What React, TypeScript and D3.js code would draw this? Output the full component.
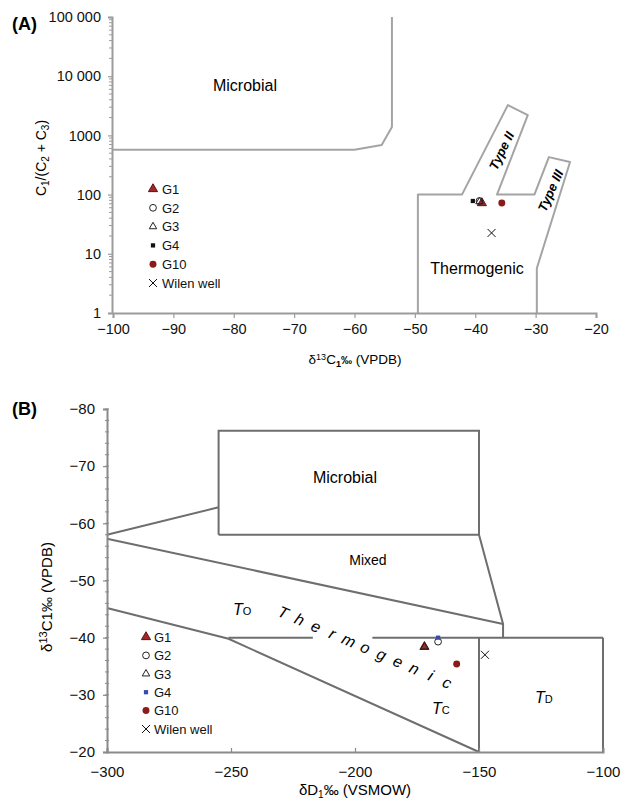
import React, { useEffect, useRef } from 'react';
import * as d3 from 'd3';

// samples, same order in both panels
const sampleNames = ['G1', 'G2', 'G3', 'G4', 'G10', 'Wilen well'];
const sampleSymbols = ['triFill', 'circleOpen', 'triOpen', 'square', 'circleFill', 'cross'];
const colorsA = ['#a3262a', '#222', '#222', '#111', '#8a1b1b', '#111'];
const colorsB = ['#a3262a', '#222', '#222', '#3b4aa8', '#8a1b1b', '#111'];

// panel A: d13C1 vs C1/(C2+C3)
const a13C = [-38.9, -39.3, -39.3, -40.4, -35.6, -37.3];
const aRatio = [72, 78, 76, 78, 72, 22.5];

// panel B: dD vs d13C1
const bDeut = [-172, -166.5, -172, -166.5, -159, -147.6];
const b13C = [-38.4, -39.3, -38.4, -40, -35.4, -37];

// axis ticks
const xTicksA = [-100, -90, -80, -70, -60, -50, -40, -30, -20];
const yTicksA = [1, 10, 100, 1000, 10000, 100000];
const yTickLabelsA = ['1', '10', '100', '1000', '10 000', '100 000'];
const xTicksB = [-300, -250, -200, -150, -100];
const yTicksB = [-80, -70, -60, -50, -40, -30, -20];

// zone boundaries (data units)
const microbialA: [number, number][] = [[-100, 570], [-60, 570], [-55.5, 690], [-53.8, 1390], [-53.8, 100000]];
const thermoA: [number, number][] = [
  [-49.5, 1], [-49.5, 100], [-42.2, 100], [-34.6, 3250], [-31.3, 2200], [-36.4, 100],
  [-30.2, 100], [-27.8, 430], [-24.3, 355], [-29.8, 5.7], [-29.8, 1],
];
const microbialBoxB: [number, number][] = [[-255, -58], [-255, -76.2], [-150, -76.2], [-150, -58], [-255, -58]];
const microbialLinkB: [number, number][] = [[-300, -58], [-255, -62.8]];
const mixedLowerB: [number, number][] = [[-300, -57.3], [-140.3, -42.4]];
const mixedRightB: [number, number][] = [[-150, -58], [-140.3, -42.4], [-140.3, -40]];
const thermoLowerB: [number, number][] = [[-300, -45.2], [-251, -39.8], [-150, -20]];
const t0LineB: [number, number][] = [[-251, -40], [-217, -40]];
const tcLineB: [number, number][] = [[-193, -40], [-100, -40]];
const tdLeftB: [number, number][] = [[-150, -40], [-150, -20]];
const tdRightB: [number, number][] = [[-100, -40], [-100, -20]];

const FONT = 'Liberation Sans, Arial, Helvetica, sans-serif';

function drawMarker(g: any, kind: string, x: number, y: number, color: string) {
  if (kind === 'cross') {
    g.append('path').attr('d', `M${x - 4},${y - 4}L${x + 4},${y + 4}M${x - 4},${y + 4}L${x + 4},${y - 4}`)
      .attr('stroke', color).attr('stroke-width', 1).attr('fill', 'none');
    return;
  }
  let type = d3.symbolCircle, size = 38, fill = color, stroke = 'none';
  if (kind === 'triFill') { type = d3.symbolTriangle; size = 36; stroke = '#5a1515'; }
  if (kind === 'triOpen') { type = d3.symbolTriangle; size = 24; fill = 'none'; stroke = color; }
  if (kind === 'circleOpen') { size = 36; fill = 'none'; stroke = color; }
  if (kind === 'square') { type = d3.symbolSquare; size = 18; }
  g.append('path').attr('d', d3.symbol().type(type).size(size)())
    .attr('transform', `translate(${x},${y})`)
    .attr('fill', fill).attr('stroke', stroke).attr('stroke-width', 1);
}

function styleAxis(ax: any, color: string) {
  ax.select('.domain').attr('stroke', color).attr('stroke-width', 2);
  ax.selectAll('.tick line').attr('stroke', color).attr('stroke-width', 1.2);
  ax.selectAll('.tick text').attr('fill', '#111').attr('font-size', 14.5).attr('font-family', FONT);
}

export default function App() {
  const ref = useRef<SVGSVGElement>(null);

  useEffect(() => {
    const svg = d3.select(ref.current);
    svg.selectAll('*').remove();

    // ---------------- panel A ----------------
    const xA = d3.scaleLinear().domain([-100, -20]).range([113, 596]);
    const yA = d3.scaleLog().domain([1, 100000]).range([313, 17]);
    const gA = svg.append('g');
    const lineA = d3.line<[number, number]>().x(d => xA(d[0])).y(d => yA(d[1]));

    gA.append('text').attr('x', 12).attr('y', 30).text('(A)')
      .attr('font-size', 18).attr('font-weight', 'bold').attr('font-family', FONT);

    [microbialA, thermoA].forEach(pts => {
      gA.append('path').attr('d', lineA(pts)).attr('fill', 'none')
        .attr('stroke', '#a4a4a4').attr('stroke-width', 2).attr('stroke-linejoin', 'round');
    });

    const axA = gA.append('g').attr('transform', 'translate(0,313)')
      .call(d3.axisBottom(xA).tickValues(xTicksA).tickSize(5).tickPadding(6));
    styleAxis(axA, '#9c9c9c');

    const ayA = gA.append('g').attr('transform', 'translate(112,0)')
      .call(d3.axisLeft(yA).tickValues(yTicksA).tickSize(4).tickPadding(7)
        .tickFormat((d: any, i: number) => yTickLabelsA[i]));
    styleAxis(ayA, '#9c9c9c');
    // log minor ticks
    yTicksA.slice(0, -1).forEach(dec => {
      d3.range(2, 10).forEach(m => {
        ayA.append('line').attr('x1', -3).attr('x2', 1).attr('y1', yA(dec * m)).attr('y2', yA(dec * m))
          .attr('stroke', '#9c9c9c').attr('stroke-width', 1);
      });
    });

    gA.append('text').attr('transform', 'translate(46,158) rotate(-90)').attr('text-anchor', 'middle')
      .attr('font-size', 14).attr('font-family', FONT)
      .html('C<tspan dy="3" font-size="10">1</tspan><tspan dy="-3">/(C</tspan><tspan dy="3" font-size="10">2</tspan><tspan dy="-3"> + C</tspan><tspan dy="3" font-size="10">3</tspan><tspan dy="-3">)</tspan>');
    gA.append('text').attr('x', 355).attr('y', 364).attr('text-anchor', 'middle')
      .attr('font-size', 13.5).attr('font-family', FONT)
      .html('δ<tspan dy="-4" font-size="9">13</tspan><tspan dy="4">C</tspan><tspan dy="3" font-size="9" font-weight="bold">1</tspan><tspan dy="-3" font-weight="bold" font-size="11">‰</tspan> (VPDB)');

    gA.append('text').attr('x', 245).attr('y', 91).attr('text-anchor', 'middle')
      .attr('font-size', 16).attr('font-family', FONT).text('Microbial');
    gA.append('text').attr('x', 477).attr('y', 274).attr('text-anchor', 'middle')
      .attr('font-size', 16).attr('font-family', FONT).text('Thermogenic');
    gA.append('text').attr('transform', 'translate(502,151) rotate(-64)').attr('text-anchor', 'middle')
      .attr('dy', 4).attr('font-size', 13).attr('font-weight', 'bold').attr('font-style', 'italic')
      .attr('font-family', FONT).text('Type II');
    gA.append('text').attr('transform', 'translate(551,191) rotate(-66)').attr('text-anchor', 'middle')
      .attr('dy', 4).attr('font-size', 13).attr('font-weight', 'bold').attr('font-style', 'italic')
      .attr('font-family', FONT).text('Type III');

    sampleNames.forEach((name, i) => {
      drawMarker(gA, sampleSymbols[i], xA(a13C[i]), yA(aRatio[i]), colorsA[i]);
      const ly = 189 + i * 18.8;
      drawMarker(gA, sampleSymbols[i], 153, ly, colorsA[i]);
      gA.append('text').attr('x', 162).attr('y', ly + 4.7).attr('font-size', 13)
        .attr('font-family', FONT).attr('fill', '#111').text(name);
    });

    // ---------------- panel B ----------------
    const xB = d3.scaleLinear().domain([-300, -100]).range([107, 603]);
    const yB = d3.scaleLinear().domain([-80, -20]).range([409, 752]);
    const gB = svg.append('g');
    const lineB = d3.line<[number, number]>().x(d => xB(d[0])).y(d => yB(d[1]));

    gB.append('text').attr('x', 12).attr('y', 415).text('(B)')
      .attr('font-size', 18).attr('font-weight', 'bold').attr('font-family', FONT);

    [microbialBoxB, microbialLinkB, mixedLowerB, mixedRightB, thermoLowerB, t0LineB, tcLineB, tdLeftB, tdRightB]
      .forEach(pts => {
        gB.append('path').attr('d', lineB(pts)).attr('fill', 'none')
          .attr('stroke', '#6e6e6e').attr('stroke-width', 2).attr('stroke-linejoin', 'miter');
      });

    const axB = gB.append('g').attr('transform', 'translate(0,752)')
      .call(d3.axisBottom(xB).tickValues(xTicksB).tickSize(-4).tickPadding(14));
    styleAxis(axB, '#8a8a8a');
    axB.selectAll('.tick text').attr('font-size', 15);

    const ayB = gB.append('g').attr('transform', 'translate(107,0)')
      .call(d3.axisLeft(yB).tickValues(yTicksB).tickSize(4).tickPadding(8));
    styleAxis(ayB, '#8a8a8a');
    ayB.selectAll('.tick text').attr('font-size', 15);
    d3.range(-80, -20, 2).forEach(v => {
      ayB.append('line').attr('x1', -2).attr('x2', 2).attr('y1', yB(v)).attr('y2', yB(v))
        .attr('stroke', '#8a8a8a').attr('stroke-width', 1);
    });

    gB.append('text').attr('transform', 'translate(52,597) rotate(-90)').attr('text-anchor', 'middle')
      .attr('font-size', 15).attr('font-family', FONT)
      .html('δ<tspan dy="-5" font-size="11">13</tspan><tspan dy="5">C1‰ (VPDB)</tspan>');
    gB.append('text').attr('x', 355).attr('y', 795).attr('text-anchor', 'middle')
      .attr('font-size', 15).attr('font-family', FONT)
      .html('δD<tspan dy="3" font-size="10">1</tspan><tspan dy="-3">‰ (VSMOW)</tspan>');

    gB.append('text').attr('x', 345).attr('y', 483).attr('text-anchor', 'middle')
      .attr('font-size', 16).attr('font-family', FONT).text('Microbial');
    gB.append('text').attr('x', 368).attr('y', 565).attr('text-anchor', 'middle')
      .attr('font-size', 14).attr('font-family', FONT).text('Mixed');

    const tLabel = (x: number, y: number, sub: string) => {
      gB.append('text').attr('x', x).attr('y', y).attr('font-family', FONT).attr('font-style', 'italic')
        .attr('font-size', 16).html(`T<tspan font-size="11" font-style="normal">${sub}</tspan>`);
    };
    tLabel(233, 615, 'O');
    tLabel(432, 714, 'C');
    tLabel(535, 703, 'D');

    const word = 'Thermogenic'.split('');
    const start = [283, 613], end = [447, 683];
    word.forEach((ch, i) => {
      const t = i / (word.length - 1);
      const px = start[0] + (end[0] - start[0]) * t;
      const py = start[1] + (end[1] - start[1]) * t;
      gB.append('text').attr('transform', `translate(${px},${py}) rotate(24)`)
        .attr('text-anchor', 'middle').attr('dy', 5).attr('font-size', 16).attr('font-style', 'italic')
        .attr('font-family', FONT).text(ch);
    });

    sampleNames.forEach((name, i) => {
      drawMarker(gB, sampleSymbols[i], xB(bDeut[i]), yB(b13C[i]), colorsB[i]);
      const ly = 637 + i * 18.4;
      drawMarker(gB, sampleSymbols[i], 146, ly, colorsB[i]);
      gB.append('text').attr('x', 154).attr('y', ly + 4.7).attr('font-size', 13)
        .attr('font-family', FONT).attr('fill', '#111').text(name);
    });
  }, []);

  return (
    <svg ref={ref} width={629} height={809}
      style={{ position: 'absolute', left: 0, top: 0, background: '#fff' }} />
  );
}
